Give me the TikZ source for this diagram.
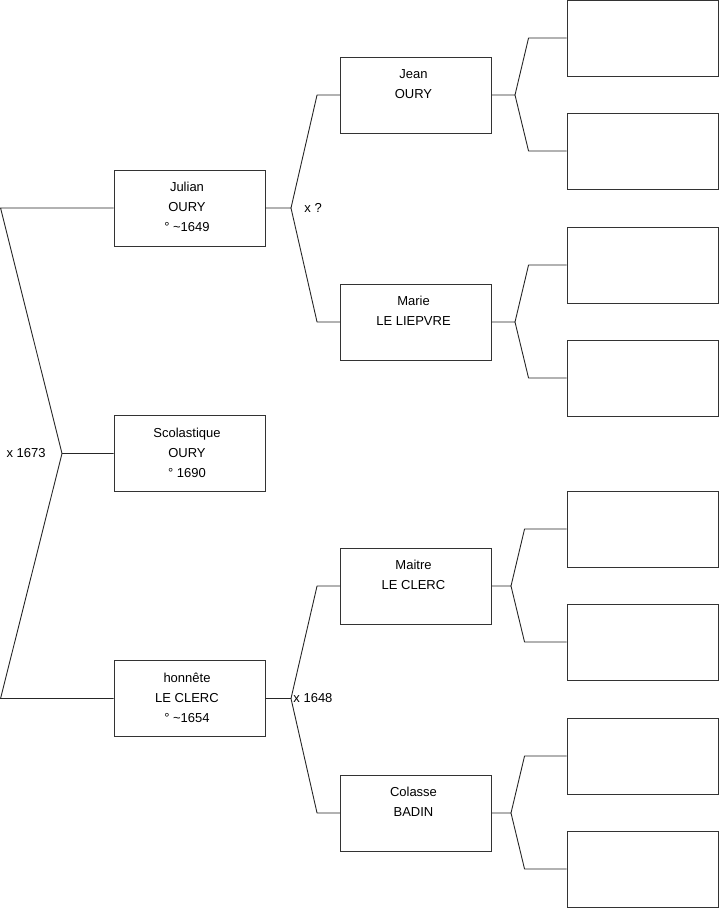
\documentclass[tikz,border=0pt]{standalone}
\usepackage{fontspec}
\setmainfont{Liberation Sans}
\usepackage{tikz}
\usetikzlibrary{positioning}

\begin{document}
\begin{tikzpicture}[x=1pt,y=-1pt,line width=0.9pt,
                    font=\fontsize{13}{20}\selectfont,
                    person/.style={draw=black!80,fill=white,minimum width=151pt,
                                   minimum height=76pt,inner sep=0pt},
                    names/.style={anchor=north,align=center,inner sep=0pt,yshift=-12.5pt,xshift=-2.5pt},
                    link/.style={draw=black!85,line join=round},
                    wed/.style={inner sep=3pt}]
    \useasboundingbox (0,0) rectangle (719,908);

    % generation 1
    \node[person,label={[names,name=julianT]north:Julian\\OURY\\° \textasciitilde1649}] (julian) at (189.5,208) {};
    \node[person,label={[names,name=scolastiqueT]north:Scolastique\\OURY\\° 1690}] (scolastique) at (189.5,453.5) {};
    \node[person,label={[names,name=honneteT]north:honnête\\LE CLERC\\° \textasciitilde1654}] (honnete) at (189.5,698.5) {};

    % generation 2
    \node[person,label={[names,name=jeanT]north:Jean\\OURY}] (jean) at (416,95) {};
    \node[person,label={[names,name=marieT]north:Marie\\LE LIEPVRE}] (marie) at (416,322) {};
    \node[person,label={[names,name=maitreT]north:Maitre\\LE CLERC}] (maitre) at (416,586) {};
    \node[person,label={[names,name=colasseT]north:Colasse\\BADIN}] (colasse) at (416,813) {};

    % generation 3 (empty)
    \node[person] (e1) at (642.5,38) {};
    \node[person] (e2) at (642.5,151) {};
    \node[person] (e3) at (642.5,265) {};
    \node[person] (e4) at (642.5,378) {};
    \node[person] (e5) at (642.5,529) {};
    \node[person] (e6) at (642.5,642) {};
    \node[person] (e7) at (642.5,756) {};
    \node[person] (e8) at (642.5,869) {};

    % forks
    \coordinate (fkA)  at (62,453.5);
    \coordinate (fkJ)  at (291,208);
    \coordinate (fkH)  at (291,698.5);
    \coordinate (fkJe) at (515,95);
    \coordinate (fkMa) at (515,322);
    \coordinate (fkMt) at (511,586);
    \coordinate (fkC)  at (511,813);

    \node[wed,anchor=east] (wA) at ([xshift=-13pt]fkA) {x 1673};
    \node[wed,anchor=west] (wJ) at ([xshift=10pt]fkJ) {x ?};
    \node[wed,anchor=west] (wH) at ([xshift=-1pt]fkH) {x 1648};

    \path[link] (scolastique.west) -- (fkA)
                (julian.west) -- ++(-113,0) -- (fkA)
                (honnete.west) -- ++(-113,0) -- (fkA);

    \path[link] (julian.east) -- (fkJ) -- ([xshift=-23pt]jean.west) -- (jean.west)
                (fkJ) -- ([xshift=-23pt]marie.west) -- (marie.west)
                (honnete.east) -- (fkH) -- ([xshift=-23pt]maitre.west) -- (maitre.west)
                (fkH) -- ([xshift=-23pt]colasse.west) -- (colasse.west);

    \path[link] (jean.east) -- (fkJe) -- ([xshift=-38pt]e1.west) -- (e1.west)
                (fkJe) -- ([xshift=-38pt]e2.west) -- (e2.west)
                (marie.east) -- (fkMa) -- ([xshift=-38pt]e3.west) -- (e3.west)
                (fkMa) -- ([xshift=-38pt]e4.west) -- (e4.west)
                (maitre.east) -- (fkMt) -- ([xshift=-42pt]e5.west) -- (e5.west)
                (fkMt) -- ([xshift=-42pt]e6.west) -- (e6.west)
                (colasse.east) -- (fkC) -- ([xshift=-42pt]e7.west) -- (e7.west)
                (fkC) -- ([xshift=-42pt]e8.west) -- (e8.west);
\end{tikzpicture}
\end{document}
